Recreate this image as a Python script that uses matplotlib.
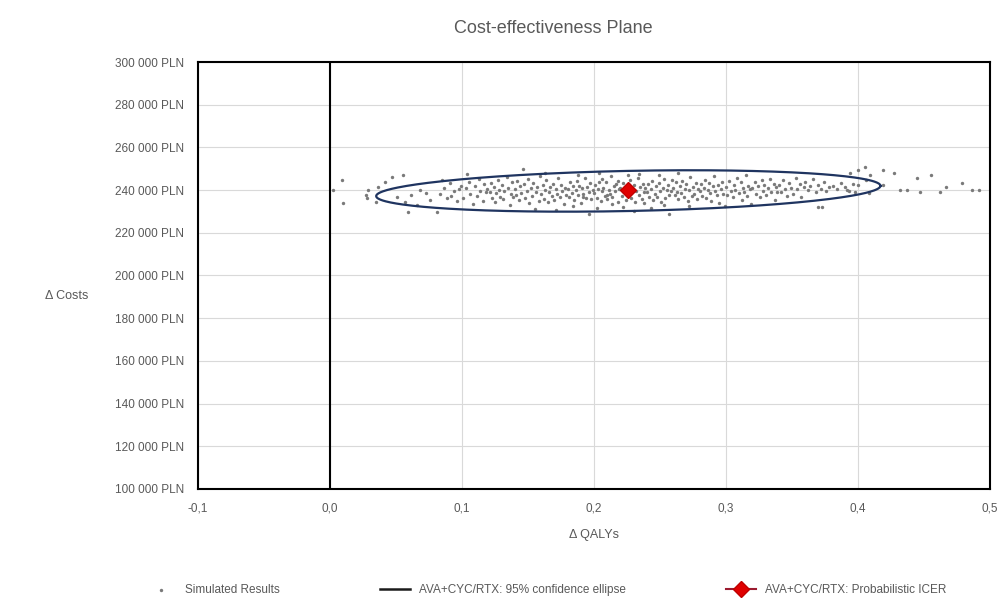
import matplotlib.pyplot as plt
import numpy as np

#---------------------------     data     ---------------------------#

# simulated results (delta QALY, delta cost in thousand PLN)
sim_qaly = [
    0.002, 0.009, 0.010, 0.027, 0.029, 0.028, 0.035, 0.036, 0.042, 0.047, 0.055, 0.059, 0.068,
    0.073, 0.076, 0.066, 0.061, 0.051, 0.057, 0.081,
    0.083, 0.086, 0.089, 0.091, 0.094, 0.096, 0.098, 0.085, 0.092, 0.099,
    0.101, 0.103, 0.105, 0.106, 0.108, 0.110, 0.111, 0.113, 0.114, 0.116, 0.117, 0.118, 0.119, 0.104,
    0.121, 0.122, 0.123, 0.124, 0.125, 0.126, 0.127, 0.128, 0.129, 0.130, 0.131, 0.132, 0.134, 0.135,
    0.136, 0.137, 0.138, 0.139,
    0.140, 0.141, 0.142, 0.143, 0.144, 0.145, 0.146, 0.147, 0.148, 0.149, 0.150, 0.151, 0.152, 0.153,
    0.154, 0.155, 0.156, 0.157, 0.158, 0.159,
    0.160, 0.161, 0.162, 0.163, 0.164, 0.165, 0.166, 0.167, 0.168, 0.169, 0.170, 0.171, 0.172, 0.173,
    0.174, 0.175, 0.176, 0.177, 0.178, 0.179, 0.163, 0.171,
    0.180, 0.181, 0.182, 0.183, 0.184, 0.185, 0.186, 0.187, 0.188, 0.189, 0.190, 0.191, 0.192, 0.193,
    0.194, 0.195, 0.196, 0.197, 0.198, 0.199, 0.184, 0.188, 0.192, 0.196,
    0.200, 0.201, 0.202, 0.203, 0.204, 0.205, 0.206, 0.207, 0.208, 0.209, 0.210, 0.211, 0.212, 0.213,
    0.214, 0.215, 0.216, 0.217, 0.218, 0.219, 0.202, 0.206, 0.210, 0.214, 0.218, 0.204,
    0.220, 0.221, 0.222, 0.223, 0.224, 0.225, 0.226, 0.227, 0.228, 0.229, 0.230, 0.231, 0.232, 0.233,
    0.234, 0.235, 0.236, 0.237, 0.238, 0.239, 0.222, 0.226, 0.230, 0.234, 0.238, 0.228,
    0.240, 0.241, 0.242, 0.243, 0.244, 0.245, 0.246, 0.247, 0.248, 0.249, 0.250, 0.251, 0.252, 0.253,
    0.254, 0.255, 0.256, 0.257, 0.258, 0.259, 0.243, 0.249, 0.253, 0.257,
    0.260, 0.261, 0.262, 0.263, 0.264, 0.265, 0.266, 0.267, 0.268, 0.269, 0.270, 0.271, 0.272, 0.273,
    0.274, 0.275, 0.276, 0.277, 0.278, 0.279, 0.264, 0.272,
    0.280, 0.281, 0.282, 0.283, 0.284, 0.285, 0.286, 0.287, 0.288, 0.289, 0.290, 0.291, 0.292, 0.293,
    0.294, 0.295, 0.296, 0.297, 0.298, 0.299,
    0.300, 0.301, 0.302, 0.304, 0.305, 0.306, 0.307, 0.308, 0.310, 0.311, 0.312, 0.313, 0.314, 0.315,
    0.316, 0.317, 0.318, 0.319,
    0.320, 0.322, 0.323, 0.324, 0.326, 0.327, 0.328, 0.329, 0.330, 0.332, 0.333, 0.334, 0.336, 0.337,
    0.338, 0.339,
    0.340, 0.342, 0.343, 0.345, 0.346, 0.348, 0.349, 0.351, 0.353, 0.354, 0.356, 0.357, 0.359,
    0.360, 0.362, 0.364, 0.366, 0.368, 0.370, 0.372, 0.374, 0.376, 0.378,
    0.381, 0.384, 0.387, 0.390, 0.393, 0.396,
    0.394, 0.400, 0.405, 0.409, 0.406, 0.400, 0.398, 0.392, 0.408, 0.370, 0.373,
    0.419, 0.427, 0.445, 0.455, 0.447, 0.437, 0.467, 0.479, 0.486, 0.419, 0.462, 0.432, 0.492,
]
sim_cost = [
    240.0, 244.7, 234.0, 237.7, 240.0, 236.3, 234.4, 241.5, 243.8, 246.1, 247.1, 229.7, 240.0,
    238.6, 235.4, 233.0, 237.7, 236.8, 234.4, 229.7,
    238.2, 241.0, 236.1, 243.5, 239.4, 234.8, 240.7, 244.6, 237.3, 242.1,
    236.5, 240.9, 243.8, 238.0, 233.6, 241.7, 237.2, 245.3, 239.6, 235.1, 242.8, 238.9, 240.3, 247.4,
    239.1, 243.2, 236.4, 241.5, 234.3, 238.5, 244.9, 240.2, 237.0, 242.6, 235.7, 239.8, 246.3, 241.0,
    233.2, 238.1, 243.7, 236.9,
    240.5, 237.8, 244.1, 235.6, 241.9, 238.7, 249.8, 242.7, 236.3, 239.5, 245.2, 233.9, 240.8, 237.4,
    243.4, 231.0, 239.0, 241.6, 235.0, 246.6,
    238.3, 242.2, 236.0, 240.1, 244.6, 234.5, 239.3, 241.3, 237.1, 243.0, 235.3, 240.6, 238.0, 245.9,
    236.7, 242.4, 239.7, 233.4, 241.1, 237.6, 247.8, 230.9,
    240.4, 236.8, 243.6, 238.6, 241.8, 235.2, 239.9, 244.3, 237.5, 242.0, 234.0, 240.9, 238.4, 245.6,
    236.1, 241.4, 239.2, 243.1, 235.9, 240.0, 232.6, 247.0, 237.0, 229.0,
    238.8, 242.5, 236.2, 240.7, 244.0, 234.9, 239.4, 241.2, 237.3, 243.8, 235.8, 240.2, 238.1, 246.4,
    236.6, 241.7, 239.6, 242.9, 234.4, 240.5, 231.8, 245.0, 237.9, 233.3, 244.5, 248.2,
    241.0, 237.2, 243.4, 239.0, 235.5, 241.6, 238.4, 244.7, 236.5, 240.3, 242.3, 234.6, 239.8, 245.8,
    237.7, 241.3, 236.0, 243.0, 238.9, 240.8, 232.2, 246.9, 230.3, 247.5, 233.8, 239.3,
    239.2, 242.7, 236.9, 240.6, 244.2, 235.4, 238.2, 241.9, 237.0, 243.3, 239.7, 234.2, 241.0, 245.4,
    236.4, 240.1, 242.4, 237.8, 239.5, 244.8, 231.5, 247.3, 233.0, 228.9,
    240.9, 237.6, 243.9, 239.1, 235.7, 242.1, 238.6, 244.4, 236.8, 240.4, 242.8, 234.8, 239.9, 246.0,
    237.3, 241.5, 238.3, 243.5, 235.9, 240.7, 247.9, 232.4,
    239.4, 242.9, 237.1, 241.2, 244.9, 236.3, 240.0, 243.2, 238.5, 235.0, 241.8, 246.5, 239.7, 237.5,
    242.5, 234.1, 240.6, 244.0, 238.0, 232.7,
    241.4, 237.9, 244.3, 239.6, 236.7, 242.6, 240.2, 245.7, 238.7, 243.6, 235.6, 241.1, 239.0, 247.2,
    237.4, 242.0, 240.5, 233.6,
    240.8, 243.8, 238.2, 241.7, 236.6, 244.6, 239.8, 242.3, 237.7, 240.9, 245.1, 238.9, 243.0, 235.4,
    241.4, 239.3,
    242.2, 239.1, 244.7, 240.6, 237.3, 243.4, 241.0, 238.4, 245.5, 240.3, 242.7, 236.8, 241.6,
    243.9, 240.0, 241.9, 245.0, 238.9, 242.5, 240.7, 243.6, 239.6, 241.3,
    242.0, 240.6, 243.1, 241.5, 239.8, 242.8,
    248.0, 249.4, 250.8, 247.1, 244.7, 242.4, 239.1, 240.0, 238.6, 232.1, 232.1,
    249.4, 248.0, 245.7, 247.1, 239.1, 240.0, 241.5, 243.3, 240.0, 242.4, 239.1, 240.0, 240.0,
]

icer_qaly = [0.226]
icer_cost = [240000]

# 95% confidence ellipse (centre, half width, half height, tilt)
ell_cx, ell_cy = 0.226, 239600
ell_a, ell_b = 0.191, 9400
ell_tilt = 2400   # cost change from centre to right end

x_ticks = [-0.1, 0.0, 0.1, 0.2, 0.3, 0.4, 0.5]
y_ticks = list(range(100000, 300001, 20000))

#---------------------------     plot     ---------------------------#

plt.rcParams['font.family'] = ['Liberation Sans Narrow', 'Liberation Sans', 'DejaVu Sans']
grey_txt = '#595959'

fig = plt.figure(figsize=(10.01, 6.01), dpi=100)
ax = fig.add_axes([0.1978, 0.1864, 0.7912, 0.7104])

ax.scatter(sim_qaly, np.array(sim_cost) * 1000, s=6, color='#7a7a7a', linewidths=0,
           label='Simulated Results', zorder=3)

t = np.linspace(0, 2 * np.pi, 400)
ex = ell_cx + ell_a * np.cos(t)
ey = ell_cy + ell_tilt * np.cos(t) + ell_b * np.sin(t)
ax.plot(ex, ey, color='#1f3460', lw=1.6, zorder=4)
ax.plot([], [], color='#1a1a1a', lw=1.8, label='AVA+CYC/RTX: 95% confidence ellipse')

ax.plot(icer_qaly, icer_cost, marker='D', markersize=8, color='#9b1b30',
        markerfacecolor='#e00000', markeredgecolor='#c00000', lw=1.5,
        label='AVA+CYC/RTX: Probabilistic ICER', zorder=5)

ax.axvline(0, color='black', lw=1.5, zorder=2)

ax.set_xlim(-0.1, 0.5)
ax.set_ylim(100000, 300000)
ax.set_xticks(x_ticks)
ax.set_xticklabels(['{:.1f}'.format(v).replace('.', ',') for v in x_ticks])
ax.set_yticks(y_ticks)
ax.set_yticklabels(['{} {:03d} PLN'.format(v // 1000, v % 1000) for v in y_ticks])
ax.tick_params(length=0, labelsize=8.5, labelcolor=grey_txt, pad=10)
ax.grid(True, color='#d9d9d9', lw=0.8, zorder=0)
ax.set_axisbelow(True)
for s in ax.spines.values():
    s.set_color('black')
    s.set_linewidth(1.5)

ax.set_xlabel('Δ QALYs', fontsize=9, color=grey_txt, labelpad=10)
fig.text(0.045, 0.508, 'Δ Costs', fontsize=9, color=grey_txt, ha='left', va='center')
fig.text(0.553, 0.952, 'Cost-effectiveness Plane', fontsize=13, color=grey_txt,
         ha='center', va='center')

fig.legend(loc='center', bbox_to_anchor=(0.546, 0.018), ncol=3, frameon=False,
           fontsize=8.5, labelcolor=grey_txt, columnspacing=8.5, handlelength=2.5,
           markerscale=1.0)

fig.savefig('out.png', dpi=100)
